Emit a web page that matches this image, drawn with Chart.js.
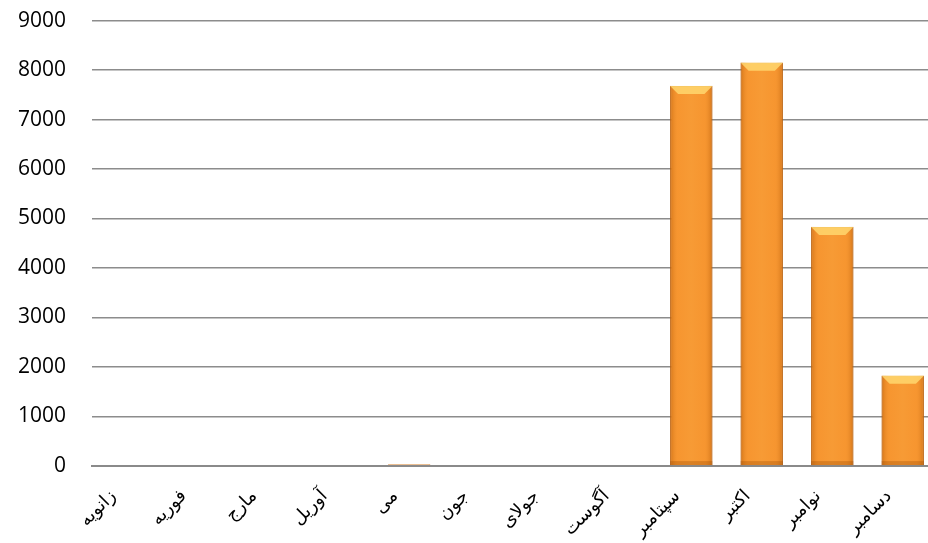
<!DOCTYPE html>
<html>
<head>
<meta charset="utf-8">
<script src="https://cdn.jsdelivr.net/npm/chart.js@4"></script>
<style>
  html, body { margin: 0; padding: 0; background: #fff; overflow: hidden; width: 928px; height: 543px; }
  #wrap { position: absolute; left: -18px; top: -18px; width: 956px; height: 575px; }
</style>
</head>
<body>
<div id="wrap"><canvas id="chart"></canvas></div>
<script>
'use strict';

const months = ['زانویه', 'فوریه', 'مارج', 'آوریل', 'می', 'جون', 'جولای', 'آگوست', 'سپتامبر', 'اکتبر', 'نوامبر', 'دسامبر'];
const counts = [0, 0, 0, 0, 30, 0, 0, 0, 7680, 8150, 4830, 1820];
const yTicks = [0, 1000, 2000, 3000, 4000, 5000, 6000, 7000, 8000, 9000];

// bevel look for the bars, drawn over what chart.js already placed
const bevel = {
  id: 'bevel',
  afterDatasetsDraw(chart) {
    const ctx = chart.ctx;
    chart.getDatasetMeta(0).data.forEach(bar => {
      const left = bar.x - bar.width / 2;
      const right = bar.x + bar.width / 2;
      const top = bar.y;
      const h = bar.base - bar.y;
      if (h < 3) return;
      ctx.save();
      const g = ctx.createLinearGradient(left, 0, right, 0);
      g.addColorStop(0, 'rgba(170,80,0,0.45)');
      g.addColorStop(0.18, 'rgba(255,170,70,0.15)');
      g.addColorStop(0.5, 'rgba(255,190,90,0.2)');
      g.addColorStop(0.82, 'rgba(255,170,70,0.15)');
      g.addColorStop(1, 'rgba(170,80,0,0.45)');
      ctx.fillStyle = g;
      ctx.fillRect(left, top, right - left, h);
      const b = Math.min(8, h / 2);
      ctx.fillStyle = 'rgba(255,215,110,0.85)';
      ctx.beginPath();
      ctx.moveTo(left, top);
      ctx.lineTo(right, top);
      ctx.lineTo(right - b, top + b);
      ctx.lineTo(left + b, top + b);
      ctx.closePath();
      ctx.fill();
      ctx.fillStyle = 'rgba(150,70,0,0.3)';
      ctx.fillRect(left, bar.base - 4, right - left, 4);
      ctx.restore();
    });
  }
};

const data = {
  labels: months,
  datasets: [{
    data: counts,
    backgroundColor: '#F5922C',
    borderColor: '#C8701C',
    borderWidth: 1,
    barPercentage: 0.6,
    categoryPercentage: 1
  }]
};

const config = {
  type: 'bar',
  data: data,
  options: {
    responsive: true,
    maintainAspectRatio: false,
    animation: false,
    layout: { padding: { top: 0, left: 10, right: 0, bottom: 4 } },
    plugins: { legend: { display: false }, tooltip: { enabled: false } },
    scales: {
      x: {
        grid: { display: false },
        border: { color: '#8a8a8a', width: 2 },
        ticks: {
          color: '#000',
          font: { family: '"DejaVu Sans", "Open Sans"', size: 18 },
          minRotation: 45,
          maxRotation: 45,
          padding: 12,
          labelOffset: -14
        }
      },
      y: {
        min: 0,
        max: 9000,
        afterBuildTicks(axis) { axis.ticks = yTicks.map(v => ({ value: v })); },
        grid: { color: '#8c8c8c', lineWidth: 1.5, drawTicks: false },
        border: { display: false },
        ticks: {
          color: '#000',
          font: { family: '"Open Sans", "DejaVu Sans"', size: 21 },
          padding: 26,
          callback: v => String(v)
        }
      }
    }
  },
  plugins: [bevel]
};

new Chart(document.getElementById('chart'), config);
</script>
</body>
</html>
